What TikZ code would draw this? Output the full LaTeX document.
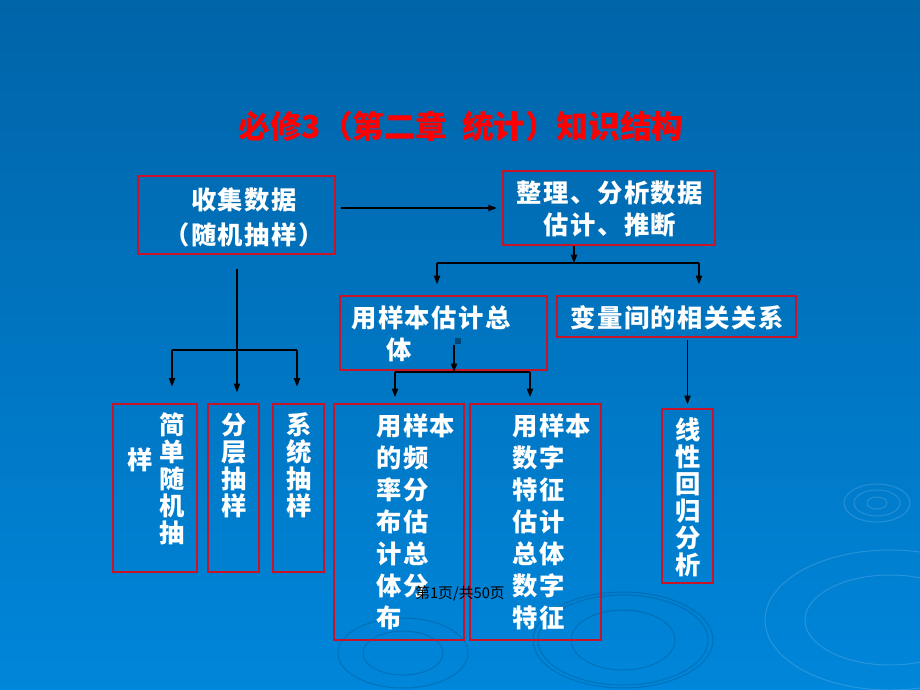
\documentclass[tikz,border=0pt]{standalone}
\usepackage{fontspec}
\newfontfamily\cjk[LetterSpace=6]{Noto Sans CJK SC}
\newfontfamily\cjkplain{Noto Sans CJK SC}
\usetikzlibrary{arrows.meta,fit}
\definecolor{bgtop}{RGB}{0,100,168}
\definecolor{bgbot}{RGB}{0,134,218}
\definecolor{boxred}{RGB}{200,20,40}
\begin{document}
\begin{tikzpicture}[x=0.025cm, y=-0.025cm,
      box/.style = {draw=boxred, line width=0.9pt, inner sep=0pt},
      txt/.style = {text=white, inner sep=0pt, align=center,
        font=\cjk\bfseries\fontsize{18}{22.8}\selectfont},
      vtxt/.style = {txt, font=\cjk\bfseries\fontsize{18}{19.2}\selectfont},
      line/.style = {black, line width=0.8pt},
      arr/.style = {line, -{Triangle[length=6pt,width=4.5pt]}},
      ripple/.style = {line width=0.7pt, opacity=0.15}
    ]
    % fondo
    \shade[top color=bgtop, bottom color=bgbot] (0,0) rectangle (920,690);
    \useasboundingbox (0,0) rectangle (920,690);
    \begin{scope}
      \clip (0,0) rectangle (920,690);
      \draw[ripple, white] (877,503) ellipse (10 and 6);
      \draw[ripple, white] (877,503) ellipse (23 and 13);
      \draw[ripple, white] (877,503) ellipse (33 and 19);
      \draw[ripple, white] (890,620) ellipse (85 and 45);
      \draw[ripple, white] (890,620) ellipse (125 and 70);
      \draw[ripple, black] (623,640) ellipse (52 and 30);
      \draw[ripple, black] (623,640) ellipse (85 and 45);
      \draw[ripple, black] (623,640) ellipse (90 and 48);
      \draw[ripple, black] (403,653) ellipse (40 and 22);
      \draw[ripple, black] (403,653) ellipse (65 and 35);
    \end{scope}

    % titulo
    \node[text=red, inner sep=0pt, font=\cjkplain\bfseries\fontsize{22.5}{26}\selectfont]
      (title) at (461,126) {必修3（第二章\ \ 统计）知识结构};

    % cajas
    \node[box, fit={(138,176) (335,254)}] (collect) {};
    \node[box, fit={(503,171) (715,245)}] (sort) {};
    \node[box, fit={(340,296) (547,370)}] (popest) {};
    \node[box, fit={(557,296) (796,337)}] (corr) {};
    \node[box, fit={(113,404) (197,572)}] (srs) {};
    \node[box, fit={(208,404) (259,572)}] (strat) {};
    \node[box, fit={(273,404) (324,572)}] (sys) {};
    \node[box, fit={(334,404) (464,640)}] (freq) {};
    \node[box, fit={(470,404) (601,640)}] (numchar) {};
    \node[box, fit={(662,409) (713,583)}] (regr) {};

    % textos
    \node[txt, font=\cjk\bfseries\fontsize{18}{25}\selectfont] (collectT) at (244,217) {收集数据\\（随机抽样）};
    \node[txt] (sortT) at (610,209) {整理、分析数据\\估计、推断};
    \node[txt] (popestT) at (431,318) {用样本估计总};
    \node[txt] (popestT2) at (399,350) {体};
    \node[txt] (corrT) at (677,318) {变量间的相关关系};
    \node[vtxt] (srsT) at (172,479) {简\\单\\随\\机\\抽};
    \node[txt] (srsT2) at (140,460) {样};
    \node[vtxt] (stratT) at (234,465) {分\\层\\抽\\样};
    \node[vtxt] (sysT) at (299,465) {系\\统\\抽\\样};
    \node[txt, align=left, anchor=west] (freqT) at (376,522) {用样本\\的频\\率分\\布估\\计总\\体分\\布};
    \node[txt, align=left, anchor=west] (numcharT) at (512,522) {用样本\\数字\\特征\\估计\\总体\\数字\\特征};
    \node[vtxt] (regrT) at (688,497) {线\\性\\回\\归\\分\\析};

    % pie
    \node[inner sep=0pt, font=\cjkplain\fontsize{10.5}{12}\selectfont] (page) at (460,594) {第1页/共50页};

    % rama izquierda
    \coordinate (busC) at (237,350);
    \coordinate (busCl) at (172,350);
    \coordinate (busCr) at (297,350);
    \draw[arr, shorten <=10pt, shorten >=8pt] (collect.south -| busC) -- (busC |- strat.north);
    \draw[line] (busCl) -- (busCr);
    \draw[arr, shorten >=12pt] (busCl) -- (busCl |- srs.north);
    \draw[arr, shorten >=12pt] (busCr) -- (busCr |- sys.north);

    % rama derecha
    \draw[arr, shorten <=3.5pt, shorten >=4pt] (collect.east |- sort.west) -- (sort.west);
    \coordinate (busA) at (574,263);
    \coordinate (busAl) at (437,263);
    \coordinate (busAr) at (699,263);
    \draw[arr] (sort.south -| busA) -- (busA);
    \draw[line] (busAl) -- (busAr);
    \draw[arr, shorten >=8pt] (busAl) -- (busAl |- popest.north);
    \draw[arr, shorten >=8pt] (busAr) -- (busAr |- corr.north);

    \fill[black!30!bgtop] (455,338) rectangle (461,344);
    \coordinate (popOut) at (454,345);
    \coordinate (busB) at (454,372);
    \coordinate (busBl) at (395,372);
    \coordinate (busBr) at (530,372);
    \draw[arr] (popOut) -- (busB);
    \draw[line] (busBl) -- (busBr);
    \draw[arr, shorten >=4.5pt] (busBl) -- (busBl |- freq.north);
    \draw[arr, shorten >=4.5pt] (busBr) -- (busBr |- numchar.north);

    \draw[arr, shorten <=2pt, shorten >=3pt] (corr.south -| regr.north) -- (regr.north);
\end{tikzpicture}
\end{document}
